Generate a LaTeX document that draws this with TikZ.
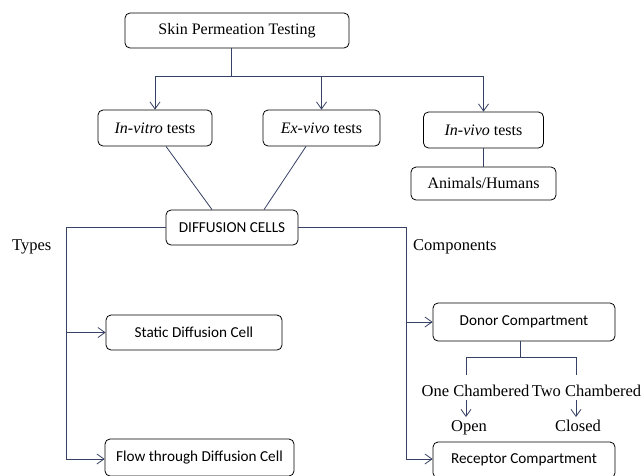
\documentclass[tikz,border=0pt]{standalone}
\usepackage{fontspec}
\setmainfont{Liberation Serif}
\newfontfamily\calib{Carlito}
\usetikzlibrary{arrows.meta,calc}
\definecolor{conncol}{RGB}{55,65,100}
\begin{document}
\begin{tikzpicture}[x=1pt,y=-1pt,
  box/.style={draw=black,rounded corners=5pt,line width=0.8pt,inner sep=0pt,align=center},
  serifbox/.style={box,font=\fontsize{16}{18}\selectfont},
  sansbox/.style={box,font=\calib\fontsize{15.2}{17}\selectfont},
  conn/.style={draw=conncol,line width=0.8pt},
  arr/.style={conn,-{Straight Barb[length=7pt,width=10pt]}},
  lbl/.style={inner sep=0pt,font=\fontsize{16.5}{18}\selectfont}]
\useasboundingbox (0,0) rectangle (642,475);
\node[serifbox,minimum width=224pt,minimum height=35pt] (skin) at (237,30.5) {Skin Permeation Testing};
\node[serifbox,minimum width=114pt,minimum height=36pt] (invitro) at (155,128) {\textit{In-vitro} tests};
\node[serifbox,minimum width=117pt,minimum height=36pt] (exvivo) at (321.5,128) {\textit{Ex-vivo} tests};
\node[serifbox,minimum width=120pt,minimum height=36pt] (invivo) at (483.5,130) {\textit{In-vivo} tests};
\node[serifbox,minimum width=145pt,minimum height=33pt] (anim) at (483.5,183.5) {Animals/Humans};
\node[sansbox,minimum width=132pt,minimum height=35pt] (diff) at (232,227.5) {DIFFUSION CELLS};
\node[sansbox,minimum width=176pt,minimum height=35pt] (static) at (194,332.5) {Static Diffusion Cell};
\node[sansbox,minimum width=189pt,minimum height=37pt] (flow) at (199.5,457.5) {Flow through Diffusion Cell};
\node[sansbox,minimum width=182pt,minimum height=38pt] (donor) at (524,322) {Donor Compartment};
\node[sansbox,minimum width=182pt,minimum height=36pt] (recep) at (524,460) {Receptor Compartment};
\node[lbl,anchor=west] (types) at (12,247) {Types};
\node[lbl,anchor=west] (comps) at (413,247) {Components};
\node[lbl,anchor=base] (one) at (475.5,396) {One Chambered};
\node[lbl,anchor=base] (two) at (586.5,396) {Two Chambered};
\node[lbl,anchor=base] (open) at (469,431) {Open};
\node[lbl,anchor=base] (closed) at (578,431) {Closed};
% top tree
\coordinate (hub) at (231,76);
\coordinate (hubL) at (155,76);
\coordinate (hubR) at (483.5,76);
\draw[conn] (skin.south -| hub) -- (hub);
\draw[conn] (hubL) -- (hubR);
\draw[arr] (hubL) -- (invitro.north);
\draw[arr] (hub -| exvivo.north) -- (exvivo.north);
\draw[arr] (hubR) -- (invivo.north);
\draw[conn] (invivo.south) -- (anim.north);
\draw[conn] ($(invitro.south)+(11,0)$) -- ($(diff.north)+(-20,0)$);
\draw[conn] ($(exvivo.south)+(-15.5,0)$) -- ($(diff.north)+(32,0)$);
% left branch
\coordinate (lt) at (66,227.5);
\coordinate (lb) at (66,459);
\draw[conn] (diff.west) -- (lt) -- (lb);
\draw[arr] (lt |- static.west) -- (static.west);
\draw[arr] (lb) -- (lb -| flow.west);
% right branch
\coordinate (rt) at (406,227.5);
\coordinate (rb) at (406,459);
\draw[conn] (diff.east) -- (rt) -- (rb);
\draw[arr] (rt |- donor.west) -- (donor.west);
\draw[arr] (rb) -- (rb -| recep.west);
% donor split
\coordinate (dm) at (520,357);
\coordinate (dl) at (466,357);
\coordinate (dr) at (576,357);
\draw[conn] (donor.south -| dm) -- (dm);
\draw[conn] (dl) -- (dr);
\draw[conn] (dl) -- (466,375);
\draw[conn] (dr) -- (576,375);
\coordinate (oa) at (466,400);
\coordinate (ta) at (576,400);
\draw[arr] (oa) -- (466,417);
\draw[arr] (ta) -- (576,417);
\end{tikzpicture}
\end{document}
